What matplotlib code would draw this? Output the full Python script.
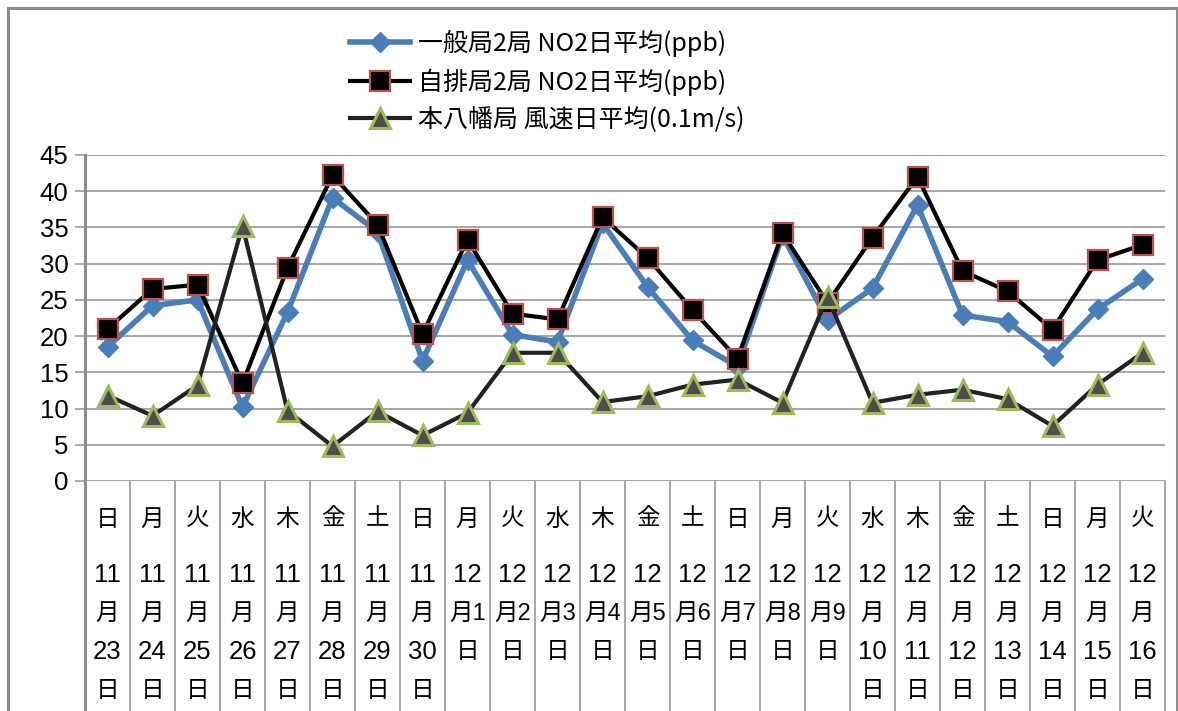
import matplotlib
matplotlib.use("Agg")
import matplotlib.pyplot as plt
from matplotlib.patches import Rectangle
from matplotlib.lines import Line2D

# ---------------- data ----------------
weekdays = ["日", "月", "火", "水", "木", "金", "土", "日", "月", "火", "水", "木",
            "金", "土", "日", "月", "火", "水", "木", "金", "土", "日", "月", "火"]
months = [11] * 8 + [12] * 16
days = [23, 24, 25, 26, 27, 28, 29, 30, 1, 2, 3, 4, 5, 6, 7, 8, 9, 10, 11, 12, 13, 14, 15, 16]

series_names = ["一般局2局 NO2日平均(ppb)", "自排局2局 NO2日平均(ppb)", "本八幡局 風速日平均(0.1m/s)"]
ippan_no2 = [18.5, 24.2, 25.0, 10.2, 23.3, 39.1, 34.4, 16.6, 30.5, 20.2, 19.2, 35.6,
             26.8, 19.4, 15.8, 33.9, 22.2, 26.6, 38.1, 22.9, 22.0, 17.2, 23.7, 27.9]
jihai_no2 = [21.0, 26.5, 27.1, 13.5, 29.4, 42.2, 35.4, 20.3, 33.3, 23.1, 22.3, 36.4,
             30.8, 23.6, 16.9, 34.2, 24.6, 33.6, 42.0, 29.0, 26.2, 20.9, 30.5, 32.6]
wind = [11.8, 9.0, 13.2, 35.2, 9.7, 4.8, 9.6, 6.3, 9.4, 17.7, 17.7, 10.9,
        11.7, 13.3, 14.0, 10.8, 25.4, 10.8, 11.9, 12.6, 11.3, 7.6, 13.3, 17.7]
yticks = [0, 5, 10, 15, 20, 25, 30, 35, 40, 45]

# ---------------- figure ----------------
W, H = 1178, 711
fig = plt.figure(figsize=(W / 100, H / 100), dpi=100)
fig.patch.set_facecolor("white")

# outer chart border
fig.add_artist(Rectangle((8 / W, -0.05), (1177 - 8) / W, (H - 8) / H + 0.05,
                         transform=fig.transFigure, fill=False,
                         edgecolor="#8c8c8c", lw=2.2))

L, R, T, B = 85, 1165, 155, 481
ax = fig.add_axes([L / W, 1 - B / H, (R - L) / W, (B - T) / H])
n = len(weekdays)
x = list(range(n))

grid_c = "#a6a6a6"
ax.set_xlim(-0.5, n - 0.5)
ax.set_ylim(0, 45)
ax.set_yticks(yticks)
ax.set_yticklabels([str(v) for v in yticks], family="Liberation Sans", fontsize=18.5)
ax.tick_params(axis="y", length=7, width=1.3, color=grid_c, pad=5)
ax.set_xticks([])
for s in ["top", "right", "bottom", "left"]:
    ax.spines[s].set_visible(False)
ax.yaxis.grid(True, color=grid_c, lw=1.4)
ax.set_axisbelow(True)

# vertical lines (left axis and category separators) extending into label area
bot = (B - H) / (B - T)
trans = ax.get_xaxis_transform()
ax.add_line(Line2D([-0.5, -0.5], [1.0, bot - 0.02], transform=trans, color="#8c8c8c",
                   lw=2.2, clip_on=False))
for i in range(1, n + 1):
    ax.add_line(Line2D([i - 0.5, i - 0.5], [0, bot - 0.02], transform=trans, color=grid_c,
                       lw=1.4, clip_on=False))

# series
blue = "#4a7ebb"
ax.plot(x, ippan_no2, color=blue, lw=4, marker="D", ms=10, mfc=blue, mec=blue,
        zorder=3, label=series_names[0], clip_on=False)
ax.plot(x, jihai_no2, color="black", lw=3, marker="s", ms=15, mfc="black",
        mec="#c0504d", mew=1.6, zorder=4, label=series_names[1], clip_on=False)
ax.plot(x, wind, color="#222222", lw=3, marker="^", ms=15, mfc="#4d4d4d",
        mec="#9bbb59", mew=2.2, zorder=5, label=series_names[2], clip_on=False)

# category labels
def yf(py):
    return (B - py) / (B - T)

cjk = ["Liberation Sans", "Noto Sans CJK JP"]
for i in range(n):
    ax.text(i, yf(519), weekdays[i], transform=trans, ha="center", va="center",
            family="Noto Sans CJK JP", fontsize=17)
    m, d = str(months[i]), str(days[i])
    if len(d) == 1:
        lines = [m, "月" + d, "日"]
    else:
        lines = [m, "月", d, "日"]
    ys = [575, 614, 652, 691]
    for k, t in enumerate(lines):
        ax.text(i, yf(ys[k]), t, transform=trans, ha="center", va="center",
                family=cjk, fontsize=18.5 if t.isdigit() else 17)

# legend
leg = ax.legend(loc="upper left", bbox_to_anchor=((340 - L) / (R - L), yf(20)),
                bbox_transform=ax.transAxes,
                frameon=False, handlelength=2.4, handletextpad=0.3,
                labelspacing=0.45, borderaxespad=0,
                prop={"family": ["Noto Sans CJK JP"], "size": 18})
fig.savefig("out.png", dpi=100)
